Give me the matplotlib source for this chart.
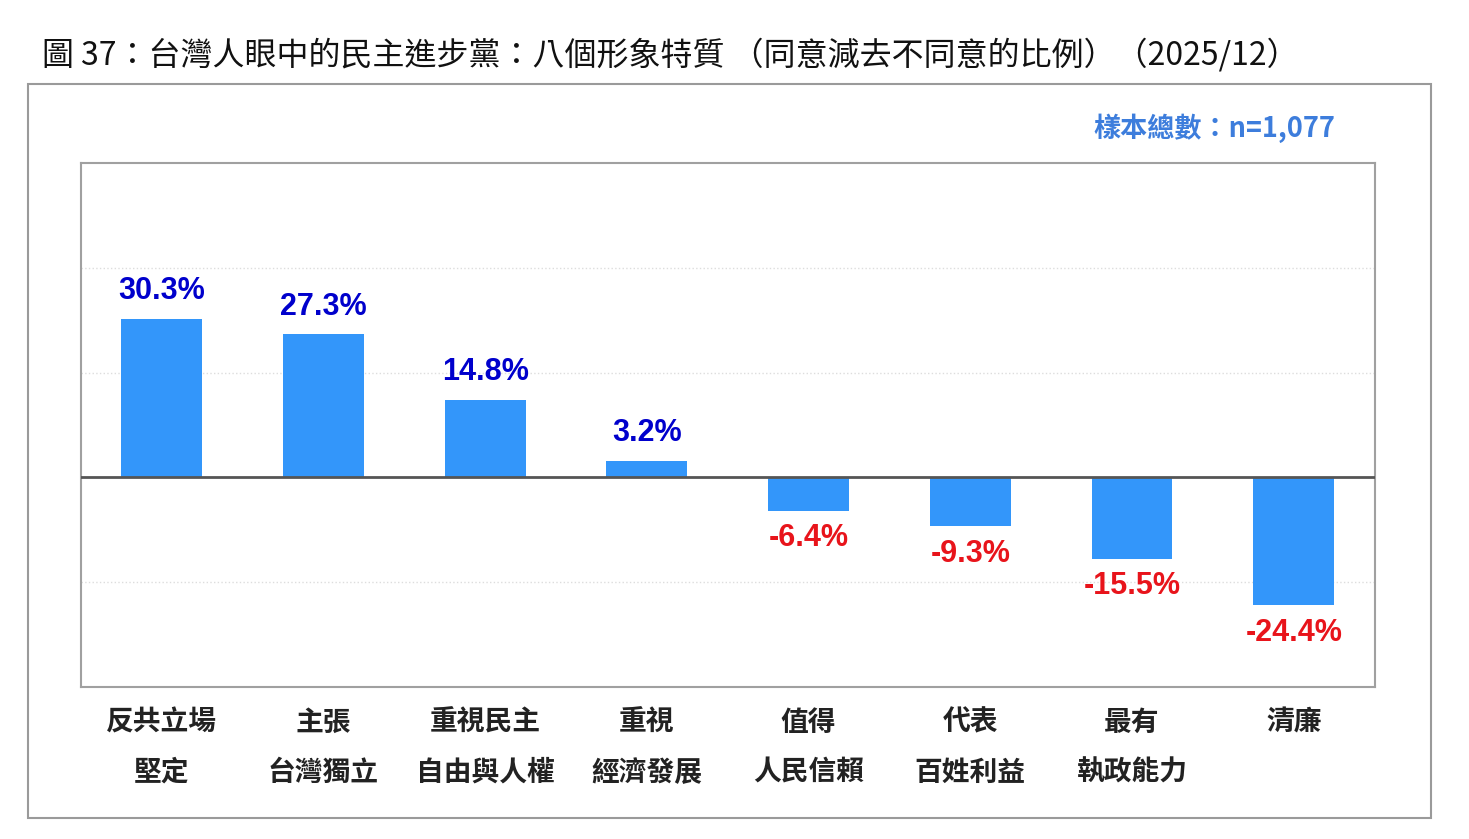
import matplotlib.pyplot as plt
from matplotlib.patches import Rectangle

plt.rcParams['font.family'] = ['Noto Sans CJK TC', 'DejaVu Sans']

categories = ['反共立場\n堅定', '主張\n台灣獨立', '重視民主\n自由與人權', '重視\n經濟發展',
              '值得\n人民信賴', '代表\n百姓利益', '最有\n執政能力', '清廉']
values = [30.3, 27.3, 14.8, 3.2, -6.4, -9.3, -15.5, -24.4]
title = '圖 37：台灣人眼中的民主進步黨：八個形象特質 （同意減去不同意的比例）（2025/12）'
sample_note = '樣本總數：n=1,077'

fig = plt.figure(figsize=(14.69, 8.39), dpi=100)
ax = fig.add_axes([0.0551, 0.1812, 0.8806, 0.6245])

# outer frame around the chart
fig.patches.append(Rectangle((0.019, 0.025), 0.955, 0.875, transform=fig.transFigure,
                             fill=False, edgecolor='#9a9a9a', linewidth=1.5))

x = range(len(values))
ax.bar(x, values, width=0.5, color='#3396FA', zorder=2)
ax.axhline(0, color='#555555', linewidth=2, zorder=3)

for xi, v in zip(x, values):
    if v >= 0:
        ax.annotate(f'{v:.1f}%', (xi, v), xytext=(0, 9), textcoords='offset points',
                    ha='center', va='bottom', fontsize=22, fontweight='bold',
                    color='#0000CC', family='Liberation Sans')
    else:
        ax.annotate(f'{v:.1f}%', (xi, v), xytext=(0, -9), textcoords='offset points',
                    ha='center', va='top', fontsize=22, fontweight='bold',
                    color='#E8141B', family='Liberation Sans')

ax.set_xlim(-0.5, 7.5)
ax.set_ylim(-40, 60)
ax.set_yticks([-20, 20, 40])
ax.yaxis.grid(True, color='#dddddd', linestyle=':', linewidth=1, zorder=0)
ax.tick_params(left=False, labelleft=False, bottom=False, pad=12)
ax.set_xticks(list(x))
ax.set_xticklabels(categories, fontsize=20, fontweight='bold', color='#222222',
                   linespacing=2.0, va='top')
for s in ax.spines.values():
    s.set_color('#a0a0a0')
    s.set_linewidth(1.5)

fig.text(0.0286, 0.935, title, fontsize=23, va='center', ha='left', color='#111111')
fig.text(0.909, 0.847, sample_note, fontsize=19.5, fontweight='bold', va='center',
         ha='right', color='#3D7DDC')

fig.savefig('out.png', dpi=100)
